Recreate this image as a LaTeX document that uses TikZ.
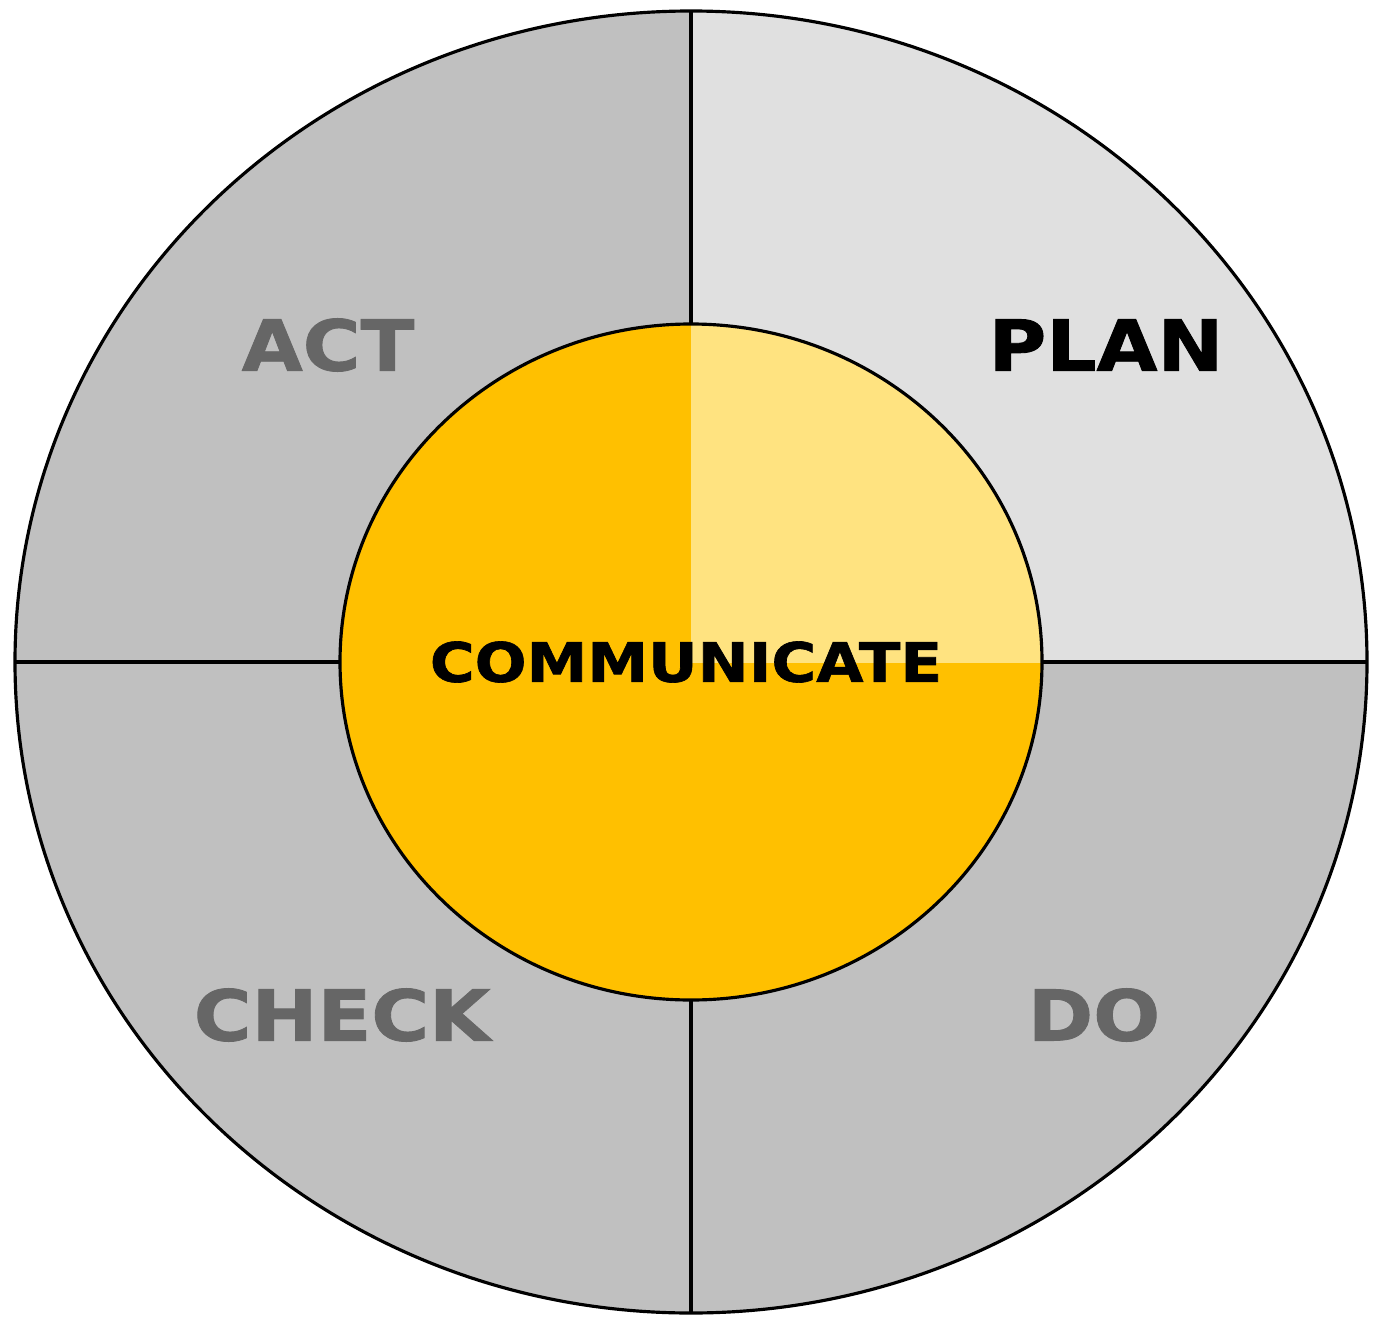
\documentclass[tikz,border=0pt]{standalone}
\usepackage{fontspec}
\setmainfont{DejaVu Sans}
\newfontfamily\heavyfont{DejaVu Sans Bold}[FakeStretch=1.12,FakeBold=1.2]
\definecolor{darkquad}{HTML}{C0C0C0}
\definecolor{planquad}{HTML}{E0E0E0}
\definecolor{hubyellow}{HTML}{FFC000}
\definecolor{hublight}{HTML}{FFE380}
\definecolor{labelgrey}{HTML}{666666}
\tikzset{
  ring/.style={line width=0.9pt},
  steplabel/.style={font=\heavyfont\fontsize{20}{24}\selectfont, inner sep=0pt},
}

\begin{document}
\begin{tikzpicture}[x=0.01cm,y=0.01cm]
\useasboundingbox (0,0) rectangle (1379,1317);
% outer ring
\fill[darkquad] (691,655) ellipse (676 and 651);
\begin{scope}
  \clip (691,655) rectangle (1379,1317);
  \fill[planquad] (691,655) ellipse (676 and 651);
\end{scope}
\draw[ring] (691,655) ellipse (676 and 651);
\draw[ring] (691,1306) -- (691,992);
\draw[ring] (691,4) -- (691,317);
\draw[ring] (15,655) -- (340,655);
\draw[ring] (1042,655) -- (1367,655);
% hub
\fill[hubyellow] (691,655) ellipse (351 and 338);
\begin{scope}
  \clip (691,655) rectangle (1379,1317);
  \fill[hublight] (691,655) ellipse (351 and 338);
\end{scope}
\draw[ring] (691,655) ellipse (351 and 338);

\node[steplabel, labelgrey] (act) at (328,972) {ACT};
\node[steplabel] (plan) at (1106,972) {PLAN};
\node[steplabel, labelgrey] (check) at (342,302) {CHECK};
\node[steplabel, labelgrey] (do) at (1094,302) {DO};
\node[font=\heavyfont\fontsize{15.5}{18}\selectfont, inner sep=0pt] (hub) at (686,655) {COMMUNICATE};
\end{tikzpicture}
\end{document}
